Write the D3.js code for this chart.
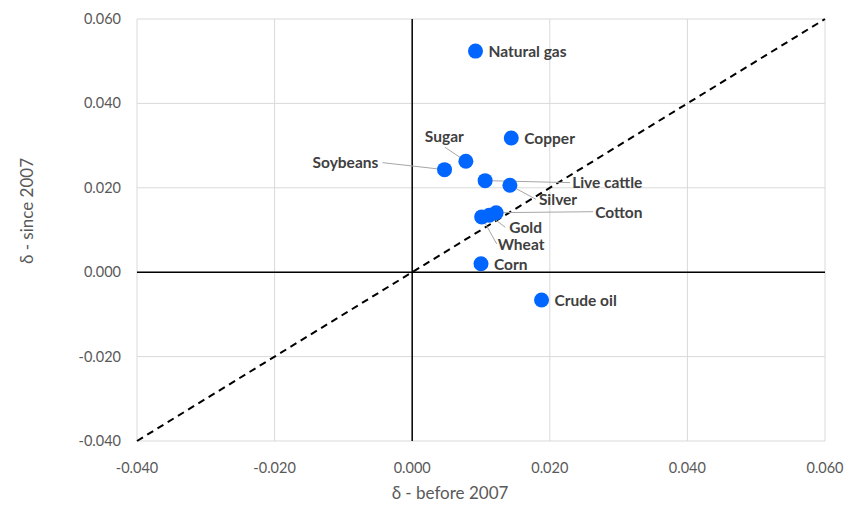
<!DOCTYPE html>
<html>
<head>
<meta charset="utf-8">
<script src="https://cdn.jsdelivr.net/npm/d3@7"></script>
<style>
  body { margin: 0; background: #fff; }
  svg { font-family: Lato, "Open Sans", sans-serif; }
</style>
</head>
<body>
<div id="chart"></div>
<script>
'use strict';

// the data
var names  = ['Natural gas', 'Copper', 'Sugar', 'Soybeans', 'Live cattle', 'Silver', 'Cotton', 'Gold', 'Wheat', 'Corn', 'Crude oil'];
var before = [0.0092, 0.0144, 0.0078, 0.0047, 0.0106, 0.0142, 0.0122, 0.0112, 0.0101, 0.0100, 0.0188];
var since  = [0.0524, 0.0318, 0.0263, 0.0243, 0.0217, 0.0206, 0.0141, 0.0135, 0.0131, 0.0020, -0.0066];
var xTicks = [-0.04, -0.02, 0, 0.02, 0.04, 0.06];
var yTicks = [-0.04, -0.02, 0, 0.02, 0.04, 0.06];

// label placement in pixels relative to the point: [dx, dy]
var labelPos = [
  [13, 6], [13, 6], [-41, -19], [-132, -2],
  [87, 7], [29, 20], [99, 5], [20, 18],
  [16, 33], [13, 6], [13, 6]
];
// leader line end relative to the point (null = no leader)
var leaderEnd = [
  null, null, [-21, -14], [-62, -7],
  [85, 2], [26, 14], [97, -1], [16, 12],
  [15, 27], null, null
];

var margin = {top: 19, right: 22, bottom: 66, left: 137},
    width = 847 - margin.left - margin.right,
    height = 507 - margin.top - margin.bottom;

var x = d3.scaleLinear().domain([-0.04, 0.06]).range([0, width]);
var y = d3.scaleLinear().domain([-0.04, 0.06]).range([height, 0]);

var svg = d3.select('#chart')
  .append('svg')
    .attr('width', 847)
    .attr('height', 507);
var vis = svg.append('g')
    .attr('transform', 'translate(' + margin.left + ',' + margin.top + ')');

var fmt = function(d) { return d3.format('.3f')(d).replace('−', '-'); };

// gridlines
vis.append('g').selectAll('line').data(xTicks).join('line')
    .attr('x1', function(d) { return x(d); }).attr('x2', function(d) { return x(d); })
    .attr('y1', 0).attr('y2', height)
    .attr('stroke', '#d9d9d9').attr('stroke-width', 1);
vis.append('g').selectAll('line').data(yTicks).join('line')
    .attr('y1', function(d) { return y(d); }).attr('y2', function(d) { return y(d); })
    .attr('x1', 0).attr('x2', width)
    .attr('stroke', '#d9d9d9').attr('stroke-width', 1);

// axes at zero
vis.append('line')
    .attr('x1', x(0)).attr('x2', x(0)).attr('y1', 0).attr('y2', height)
    .attr('stroke', '#000').attr('stroke-width', 1.5);
vis.append('line')
    .attr('x1', 0).attr('x2', width).attr('y1', y(0)).attr('y2', y(0))
    .attr('stroke', '#000').attr('stroke-width', 1.5);

// tick labels
vis.append('g').selectAll('text').data(xTicks).join('text')
    .attr('x', function(d) { return x(d); })
    .attr('y', height + 32)
    .attr('text-anchor', 'middle')
    .attr('font-size', 14.5)
    .attr('fill', '#595959')
    .text(fmt);
vis.append('g').selectAll('text').data(yTicks).join('text')
    .attr('x', -16)
    .attr('y', function(d) { return y(d) + 5; })
    .attr('text-anchor', 'end')
    .attr('font-size', 14.5)
    .attr('fill', '#595959')
    .text(fmt);

// axis titles
svg.append('text')
    .attr('x', 450)
    .attr('y', 499)
    .attr('text-anchor', 'middle')
    .attr('font-size', 17)
    .attr('fill', '#595959')
    .text('δ - before 2007');
svg.append('text')
    .attr('transform', 'translate(33,211) rotate(-90)')
    .attr('text-anchor', 'middle')
    .attr('font-size', 17)
    .attr('fill', '#595959')
    .text('δ - since 2007');

// diagonal y = x
vis.append('line')
    .attr('x1', x(-0.04)).attr('y1', y(-0.04))
    .attr('x2', x(0.06)).attr('y2', y(0.06))
    .attr('stroke', '#000').attr('stroke-width', 2)
    .attr('stroke-dasharray', '7,5');

var pts = names.map(function(n, i) {
  return {name: n, x: before[i], y: since[i], lp: labelPos[i], le: leaderEnd[i]};
});

// leader lines
vis.append('g').selectAll('line').data(pts.filter(function(d) { return d.le; })).join('line')
    .attr('x1', function(d) { return x(d.x); })
    .attr('y1', function(d) { return y(d.y); })
    .attr('x2', function(d) { return x(d.x) + d.le[0]; })
    .attr('y2', function(d) { return y(d.y) + d.le[1]; })
    .attr('stroke', '#a6a6a6').attr('stroke-width', 1);

// points
vis.append('g').selectAll('circle').data(pts).join('circle')
    .attr('cx', function(d) { return x(d.x); })
    .attr('cy', function(d) { return y(d.y); })
    .attr('r', 7.5)
    .attr('fill', '#0066ff');

// labels
vis.append('g').selectAll('text').data(pts).join('text')
    .attr('x', function(d) { return x(d.x) + d.lp[0]; })
    .attr('y', function(d) { return y(d.y) + d.lp[1]; })
    .attr('font-size', 15.5)
    .attr('font-weight', 'bold')
    .attr('fill', '#404040')
    .text(function(d) { return d.name; });
</script>
</body>
</html>
